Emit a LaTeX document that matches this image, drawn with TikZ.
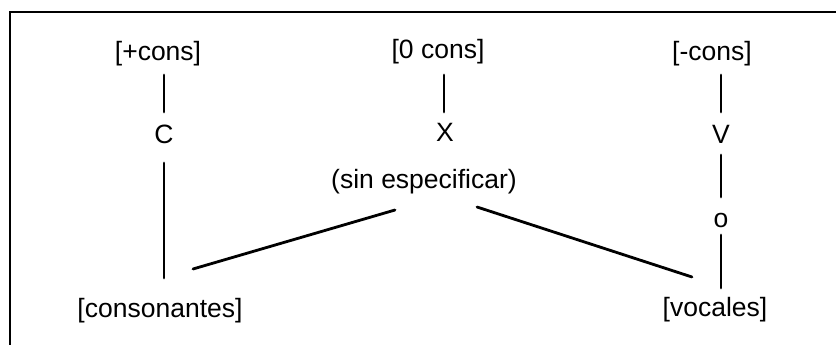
\documentclass[tikz,border=0pt]{standalone}
\usepackage{fontspec}
\setmainfont{Liberation Sans}
\usetikzlibrary{calc}
\begin{document}
\begin{tikzpicture}[x=1pt,y=-1pt,
  lbl/.style={inner sep=0pt, font=\fontsize{26.5}{30}\selectfont},
  conn/.style={line width=2.8pt, line cap=round},
  frame/.style={line width=2.5pt}]
\useasboundingbox (0,0) rectangle (836,345);
\draw[frame] (10,345) -- (10,12) -- (836,12);
% nodes
\node[lbl] (pc) at (158,53.5) {[+cons]};
\node[lbl] (zc) at (438,52) {[0 cons]};
\node[lbl] (mc) at (712,53.5) {[-cons]};
\node[lbl] (C) at (164,134) {C};
\node[lbl] (X) at (445,132) {X};
\node[lbl] (V) at (721,134) {V};
\node[lbl] (sin) at (424,182) {(sin especificar)};
\node[lbl] (o) at (721,220) {o};
\node[lbl] (cons) at (160,311) {[consonantes]};
\node[lbl] (voc) at (715,310) {[vocales]};
% connectors
\draw[conn] ($(C)+(0,-59)$) -- ($(C)+(0,-22)$);
\draw[conn] ($(X)+(-1,-57)$) -- ($(X)+(-1,-20)$);
\draw[conn] ($(V)+(0,-59)$) -- ($(V)+(0,-22)$);
\draw[conn] ($(C)+(0,29)$) -- ($(cons)+(4,-33)$);
\draw[conn] ($(V)+(0,21)$) -- ($(o)+(0,-23)$);
\draw[conn] ($(o)+(0,15)$) -- ($(voc)+(6,-22)$);
\draw[conn] ($(sin)+(-29,28)$) -- ($(cons)+(33,-42)$);
\draw[conn] ($(sin)+(53,25)$) -- ($(voc)+(-23,-33)$);
\end{tikzpicture}
\end{document}
